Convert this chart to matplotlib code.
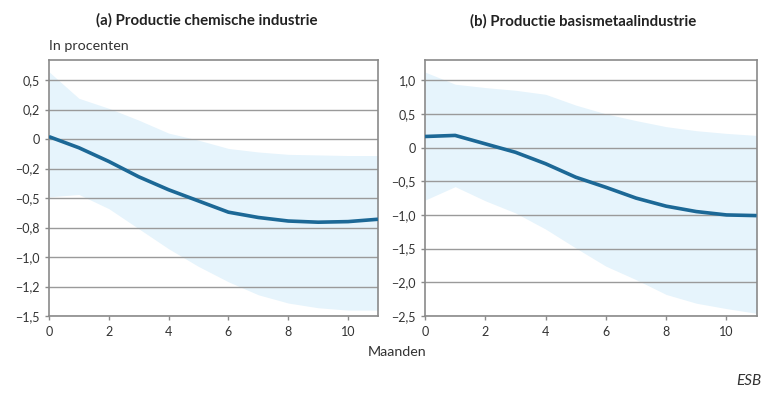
import matplotlib
matplotlib.use("Agg")
import matplotlib.pyplot as plt
import numpy as np

plt.rcParams['font.family'] = ['Lato', 'DejaVu Sans']

months = list(range(12))

# (a) chemische industrie
chem_mid = [0.02, -0.074, -0.19, -0.32, -0.43, -0.525, -0.62, -0.665, -0.695, -0.705, -0.70, -0.68]
chem_hi = [0.57, 0.345, 0.26, 0.16, 0.05, -0.01, -0.08, -0.11, -0.13, -0.135, -0.14, -0.14]
chem_lo = [-0.49, -0.47, -0.59, -0.76, -0.93, -1.08, -1.21, -1.32, -1.39, -1.43, -1.45, -1.45]
chem_yticks = [0.5, 0.25, 0, -0.25, -0.5, -0.75, -1.0, -1.25, -1.5]
chem_ylabels = ['0,5', '0,2', '0', '\u22120,2', '\u22120,5', '\u22120,8', '\u22121,0', '\u22121,2', '\u22121,5']

# (b) basismetaalindustrie
metal_mid = [0.164, 0.18, 0.055, -0.07, -0.24, -0.44, -0.59, -0.75, -0.87, -0.95, -1.0, -1.01]
metal_hi = [1.12, 0.94, 0.89, 0.85, 0.79, 0.63, 0.50, 0.40, 0.31, 0.25, 0.21, 0.18]
metal_lo = [-0.78, -0.58, -0.79, -0.97, -1.21, -1.49, -1.76, -1.96, -2.18, -2.31, -2.39, -2.46]
metal_yticks = [1.0, 0.5, 0, -0.5, -1.0, -1.5, -2.0, -2.5]
metal_ylabels = ['1,0', '0,5', '0', '\u22120,5', '\u22121,0', '\u22121,5', '\u22122,0', '\u22122,5']

xticks = [0, 2, 4, 6, 8, 10]

band_color = '#e6f4fc'
line_color = '#1c6896'
grid_color = '#9a9a9a'
text_color = '#333333'

fig = plt.figure(figsize=(7.64, 3.97), dpi=100)
ax1 = fig.add_axes([0.0641, 0.204, 0.4306, 0.645])
ax2 = fig.add_axes([0.5563, 0.204, 0.434, 0.645])


def style(ax, mid, hi, lo, yticks, ylabels, ylim):
    ax.fill_between(months, lo, hi, color=band_color, lw=0, zorder=1)
    for t in yticks:
        ax.axhline(t, color=grid_color, lw=1.0, zorder=2)
    ax.plot(months, mid, color=line_color, lw=2.6, zorder=3, solid_capstyle='butt')
    ax.set_xlim(0, 11)
    ax.set_ylim(*ylim)
    ax.set_yticks(yticks)
    ax.set_yticklabels(ylabels)
    ax.set_xticks(xticks)
    ax.set_xticklabels([str(x) for x in xticks])
    for s in ax.spines.values():
        s.set_color('#8a8a8a')
        s.set_linewidth(1.2)
    ax.tick_params(axis='both', colors='#8a8a8a', labelcolor=text_color,
                   labelsize=9, length=3, width=1)
    ax.tick_params(axis='x', pad=4)


style(ax1, chem_mid, chem_hi, chem_lo, chem_yticks, chem_ylabels, (-1.5, 0.67))
style(ax2, metal_mid, metal_hi, metal_lo, metal_yticks, metal_ylabels, (-2.5, 1.3))

fig.text(207 / 764, 1 - 20 / 397, '(a) Productie chemische industrie', ha='center', va='center',
         fontsize=10.8, fontweight='bold', color='#222222')
fig.text(583 / 764, 1 - 21 / 397, '(b) Productie basismetaalindustrie', ha='center', va='center',
         fontsize=10.8, fontweight='bold', color='#222222')
fig.text(49 / 764, 1 - 46 / 397, 'In procenten', ha='left', va='center', fontsize=10.3, color=text_color)
fig.text(397 / 764, 1 - 352 / 397, 'Maanden', ha='center', va='center', fontsize=10.3, color=text_color)
fig.text(761 / 764, 1 - 381 / 397, 'ESB', ha='right', va='center', fontsize=11,
         style='italic', color=text_color)

fig.savefig('out.png', dpi=100)
